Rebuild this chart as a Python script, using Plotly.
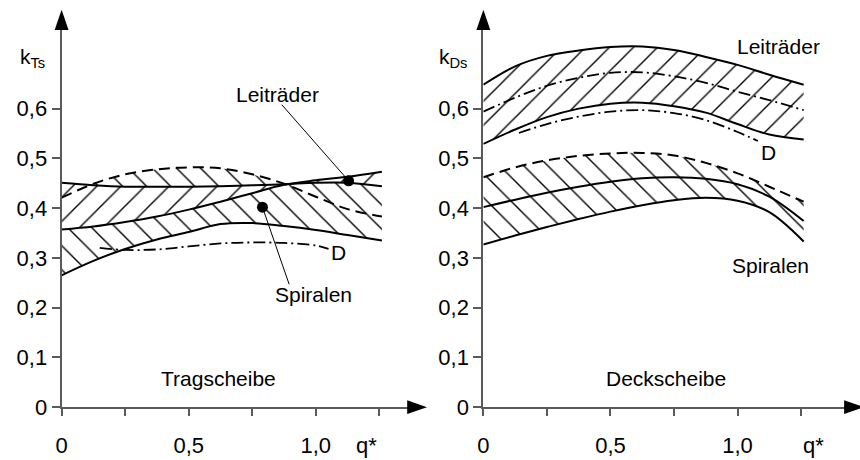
import numpy as np
import plotly.graph_objects as go

# ---------------- data ----------------
q = [0, 0.125, 0.25, 0.375, 0.5, 0.625, 0.75, 0.875, 1.0, 1.125, 1.26]

# Tragscheibe (left)
ts_leit_a = [0.451, 0.446, 0.443, 0.443, 0.443, 0.444, 0.446, 0.448, 0.451, 0.451, 0.444]
ts_leit_b = [0.357, 0.363, 0.372, 0.383, 0.397, 0.413, 0.430, 0.447, 0.456, 0.463, 0.473]
ts_spir_dash = [0.421, 0.449, 0.468, 0.478, 0.482, 0.480, 0.468, 0.449, 0.423, 0.398, 0.383]
ts_spir_low = [0.265, 0.294, 0.318, 0.337, 0.352, 0.368, 0.370, 0.364, 0.356, 0.346, 0.335]
ts_d_q = [0.15, 0.25, 0.375, 0.5, 0.625, 0.75, 0.875, 1.0, 1.05]
ts_d = [0.320, 0.316, 0.317, 0.323, 0.329, 0.331, 0.330, 0.325, 0.318]
ts_dots_q = [1.129, 0.790]
ts_dots_k = [0.455, 0.402]

# Deckscheibe (right)
ds_leit_up = [0.648, 0.685, 0.706, 0.717, 0.724, 0.725, 0.718, 0.704, 0.688, 0.668, 0.648]
ds_dd_up = [0.594, 0.622, 0.646, 0.662, 0.672, 0.673, 0.665, 0.652, 0.634, 0.617, 0.597]
ds_leit_low = [0.529, 0.558, 0.583, 0.600, 0.610, 0.612, 0.605, 0.592, 0.569, 0.548, 0.538]
ds_d_q = [0.14, 0.25, 0.375, 0.5, 0.625, 0.75, 0.875, 1.0, 1.08]
ds_d = [0.551, 0.569, 0.584, 0.594, 0.597, 0.591, 0.577, 0.553, 0.535]
ds_spir_dash = [0.462, 0.482, 0.496, 0.505, 0.510, 0.511, 0.506, 0.491, 0.470, 0.443, 0.413]
ds_spir_mid = [0.402, 0.417, 0.431, 0.443, 0.453, 0.460, 0.462, 0.459, 0.448, 0.423, 0.374]
ds_spir_low = [0.327, 0.345, 0.362, 0.378, 0.393, 0.406, 0.416, 0.421, 0.415, 0.392, 0.333]

x_labelvals = [0, 0.5, 1.0]
x_labeltext = ["0", "0,5", "1,0"]
x_tick_marks = [0, 0.25, 0.5, 0.75, 1.0, 1.25]
q_star_left, q_star_right = 1.199, 1.298   # positions of the axis-name label "q*"
y_tickvals = [0, 0.1, 0.2, 0.3, 0.4, 0.5, 0.6]
y_ticktext = ["0", "0,1", "0,2", "0,3", "0,4", "0,5", "0,6"]

# ---------------- layout geometry ----------------
W, H = 860, 460
PX_PER_Q = 256.0
PX_PER_K = 512.0
Y0_PX, YTOP_PX = 419, 30
L_X0, L_XEND = 56, 406
R_X0, R_XEND = 480.7, 846

FONT = "Liberation Sans, Arial, sans-serif"
AXC = "#5a5a5a"
BLACK = "#000"

fig = go.Figure()


def band(xa, lower, upper, shape, size, bg, xr, yr):
    fig.add_trace(go.Scatter(x=xa, y=lower, mode="lines", line=dict(width=0, shape="spline"),
                             xaxis=xr, yaxis=yr, showlegend=False, hoverinfo="skip"))
    fig.add_trace(go.Scatter(x=xa, y=upper, mode="lines", line=dict(width=0, shape="spline"),
                             fill="tonexty", fillcolor=bg,
                             fillpattern=dict(shape=shape, size=size, solidity=0.08,
                                              fgcolor=BLACK, bgcolor=bg, fillmode="replace"),
                             xaxis=xr, yaxis=yr, showlegend=False, hoverinfo="skip"))


def curve(xa, ya, dash, width, xr, yr):
    fig.add_trace(go.Scatter(x=xa, y=ya, mode="lines",
                             line=dict(color=BLACK, width=width, dash=dash, shape="spline"),
                             xaxis=xr, yaxis=yr, showlegend=False, hoverinfo="skip"))


# ----- left panel -----
ts_spir_top = np.maximum(np.maximum(ts_spir_dash, ts_leit_a), ts_leit_b).tolist()
band(q, ts_spir_low, ts_spir_top, "\\", 17, "rgba(255,255,255,0)", "x", "y")
band(q, ts_leit_b, ts_leit_a, "/", 17, "white", "x", "y")
curve(q, ts_leit_a, "solid", 2, "x", "y")
curve(q, ts_leit_b, "solid", 2, "x", "y")
curve(q, ts_spir_dash, "11px,6px", 2, "x", "y")
curve(q, ts_spir_low, "solid", 2, "x", "y")
curve(ts_d_q, ts_d, "12px,4px,2px,4px", 1.8, "x", "y")
fig.add_trace(go.Scatter(x=ts_dots_q, y=ts_dots_k, mode="markers",
                         marker=dict(color=BLACK, size=11), xaxis="x", yaxis="y",
                         showlegend=False, hoverinfo="skip"))

# ----- right panel -----
band(q, ds_spir_low, ds_spir_dash, "\\", 17, "rgba(255,255,255,0)", "x2", "y2")
band(q, ds_leit_low, ds_leit_up, "/", 17, "rgba(255,255,255,0)", "x2", "y2")
curve(q, ds_leit_up, "solid", 2, "x2", "y2")
curve(q, ds_leit_low, "solid", 2, "x2", "y2")
curve(q, ds_dd_up, "12px,4px,2px,4px", 1.8, "x2", "y2")
curve(ds_d_q, ds_d, "12px,4px,2px,4px", 1.8, "x2", "y2")
curve(q, ds_spir_dash, "11px,6px", 2, "x2", "y2")
curve(q, ds_spir_mid, "solid", 2, "x2", "y2")
curve(q, ds_spir_low, "solid", 2, "x2", "y2")


def xaxis(x0, xend, qstar):
    return dict(domain=[x0 / W, xend / W], range=[0, (xend - x0) / PX_PER_Q],
                showgrid=False, zeroline=False, showline=True, linecolor=AXC, linewidth=2,
                ticks="", tickvals=x_labelvals + [qstar], ticktext=x_labeltext + ["q*"],
                ticklabelstandoff=17,
                minor=dict(tickvals=x_tick_marks, ticks="outside", ticklen=7, tickwidth=2,
                           tickcolor=AXC, showgrid=False),
                tickfont=dict(family=FONT, size=22, color=BLACK), fixedrange=True)


def yaxis():
    return dict(domain=[(H - Y0_PX) / H, (H - YTOP_PX) / H],
                range=[0, (Y0_PX - YTOP_PX) / PX_PER_K],
                showgrid=False, zeroline=False, showline=True, linecolor=AXC, linewidth=2,
                ticks="outside", ticklen=8, tickwidth=2, tickcolor=AXC,
                tickvals=y_tickvals, ticktext=y_ticktext,
                tickfont=dict(family=FONT, size=22, color=BLACK), fixedrange=True)


xa1 = xaxis(L_X0, L_XEND, q_star_left)
xa1["anchor"] = "y"
xa2 = xaxis(R_X0, R_XEND, q_star_right)
xa2["anchor"] = "y2"
ya1 = yaxis()
ya1["anchor"] = "x"
ya2 = yaxis()
ya2["anchor"] = "x2"

# arrowheads (paper coords)
shapes = []


def px(xp, yp):
    return f"{xp / W},{1 - yp / H}"


for x0, xend in [(L_X0, L_XEND), (R_X0, R_XEND)]:
    shapes.append(dict(type="path", xref="paper", yref="paper",
                       path=f"M{px(xend - 2, Y0_PX - 7)} L{px(xend + 18, Y0_PX)} L{px(xend - 2, Y0_PX + 7)} Z",
                       fillcolor=BLACK, line=dict(width=0)))
    shapes.append(dict(type="path", xref="paper", yref="paper",
                       path=f"M{px(x0 - 7, YTOP_PX + 1)} L{px(x0, YTOP_PX - 20)} L{px(x0 + 7, YTOP_PX + 1)} Z",
                       fillcolor=BLACK, line=dict(width=0)))

# leader lines (data coords)
shapes.append(dict(type="line", xref="x", yref="y", x0=0.866, y0=0.608, x1=ts_dots_q[0], y1=ts_dots_k[0],
                   line=dict(color=BLACK, width=1)))
shapes.append(dict(type="line", xref="x", yref="y", x0=ts_dots_q[1], y0=ts_dots_k[1], x1=0.895, y1=0.247,
                   line=dict(color=BLACK, width=1)))

annotations = []


def text(t, x, y, xr="x", yr="y", size=21, xanchor="center", yanchor="middle"):
    annotations.append(dict(text=t, x=x, y=y, xref=xr, yref=yr, showarrow=False,
                            xanchor=xanchor, yanchor=yanchor,
                            font=dict(family=FONT, size=size, color=BLACK)))


text("Leiträder", 0.848, 0.629)
text("Spiralen", 0.992, 0.227)
text("D", 1.090, 0.311)
text("Tragscheibe", 0.619, 0.057)
text("Leiträder", 1.163, 0.724, "x2", "y2")
text("Spiralen", 1.130, 0.285, "x2", "y2")
text("D", 1.122, 0.512, "x2", "y2")
text("Deckscheibe", 0.720, 0.057, "x2", "y2")
annotations.append(dict(text="k<sub>Ts</sub>", x=12 / W, y=1 - 60 / H, xref="paper", yref="paper",
                        showarrow=False, xanchor="left", yanchor="middle",
                        font=dict(family=FONT, size=21, color=BLACK)))
annotations.append(dict(text="k<sub>Ds</sub>", x=434 / W, y=1 - 60 / H, xref="paper", yref="paper",
                        showarrow=False, xanchor="left", yanchor="middle",
                        font=dict(family=FONT, size=21, color=BLACK)))

fig.update_layout(width=W, height=H, margin=dict(l=0, r=0, t=0, b=0),
                  paper_bgcolor="white", plot_bgcolor="rgba(0,0,0,0)",
                  xaxis=xa1, yaxis=ya1, xaxis2=xa2, yaxis2=ya2,
                  shapes=shapes, annotations=annotations, showlegend=False,
                  font=dict(family=FONT))

fig.write_html("out.html", config={"displayModeBar": False})
